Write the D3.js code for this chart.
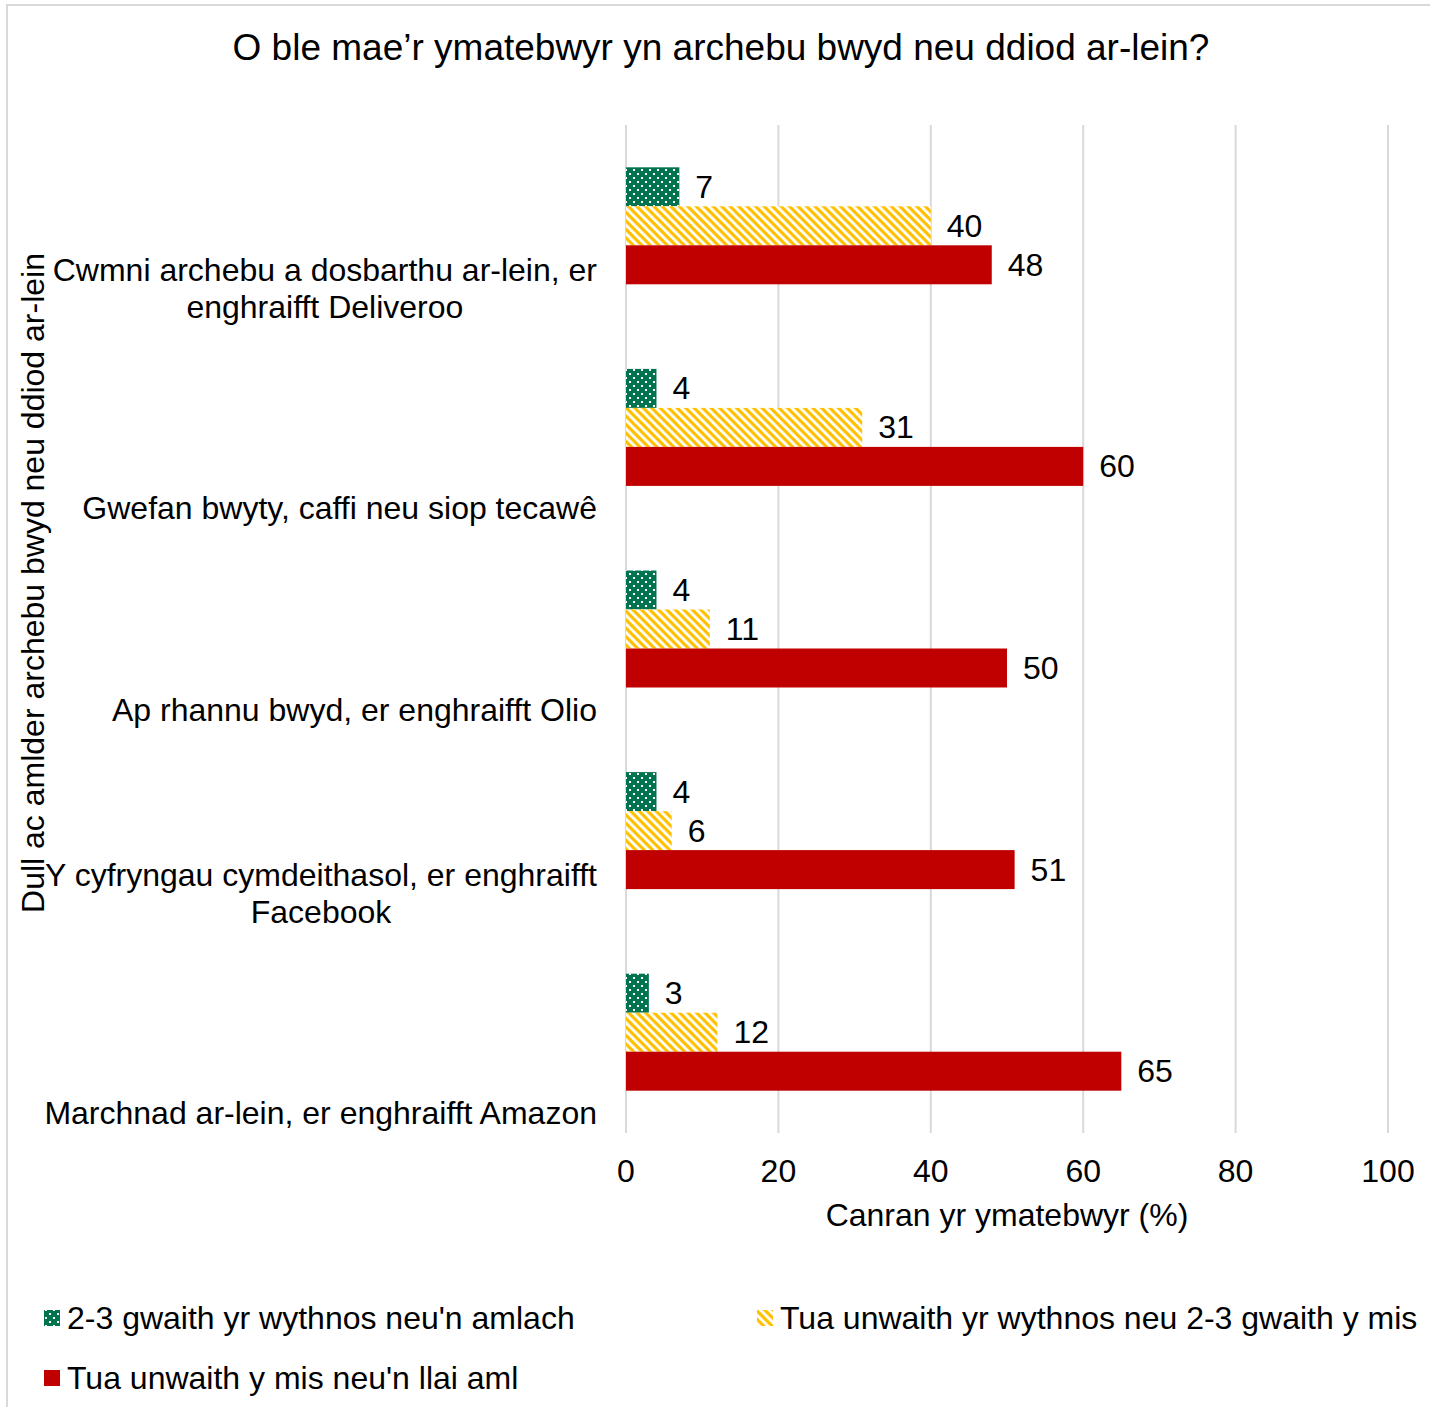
<!DOCTYPE html>
<html><head><meta charset="utf-8">
<script src="https://cdn.jsdelivr.net/npm/d3@7"></script>
<style>body{margin:0;background:#fff;}svg{font-family:"Liberation Sans",Arial,sans-serif;}</style>
</head><body>
<script>
const categories = [
  ["Cwmni archebu a dosbarthu ar-lein, er", "enghraifft Deliveroo"],
  ["Gwefan bwyty, caffi neu siop tecawê"],
  ["Ap rhannu bwyd, er enghraifft Olio"],
  ["Y cyfryngau cymdeithasol, er enghraifft", "Facebook"],
  ["Marchnad ar-lein, er enghraifft Amazon"]
];
const seriesNames = ["2-3 gwaith yr wythnos neu'n amlach", "Tua unwaith yr wythnos neu 2-3 gwaith y mis", "Tua unwaith y mis neu'n llai aml"];
const weekly = [7, 4, 4, 4, 3];
const monthly = [40, 31, 11, 6, 12];
const lessOften = [48, 60, 50, 51, 65];
const xTicks = [0, 20, 40, 60, 80, 100];
const title = "O ble mae’r ymatebwyr yn archebu bwyd neu ddiod ar-lein?";
const xTitle = "Canran yr ymatebwyr (%)";
const yTitle = "Dull ac amlder archebu bwyd neu ddiod ar-lein";

const series = [weekly, monthly, lessOften];
const W = 1430, H = 1407;
const FS = 32;
const svg = d3.select("body").append("svg").attr("width", W).attr("height", H);
const defs = svg.append("defs");
const pg = defs.append("pattern").attr("id", "pDots").attr("patternUnits", "userSpaceOnUse").attr("width", 8).attr("height", 8);
pg.append("rect").attr("width", 8).attr("height", 8).attr("fill", "#00734F");
pg.append("rect").attr("x", 1).attr("y", 1).attr("width", 2).attr("height", 2).attr("fill", "#fff");
pg.append("rect").attr("x", 5).attr("y", 5).attr("width", 2).attr("height", 2).attr("fill", "#fff");
const py = defs.append("pattern").attr("id", "pStripes").attr("patternUnits", "userSpaceOnUse").attr("width", 6).attr("height", 6).attr("patternTransform", "rotate(45)");
py.append("rect").attr("width", 6).attr("height", 6).attr("fill", "#fff");
py.append("rect").attr("width", 6).attr("height", 3.2).attr("fill", "#FFC000");
const fills = ["url(#pDots)", "url(#pStripes)", "#C00000"];

svg.append("rect").attr("x", 7).attr("y", 5).attr("width", W + 10).attr("height", H + 10).attr("fill", "none").attr("stroke", "#d9d9d9").attr("stroke-width", 2);

const x0 = 626, x1 = 1388, yTop = 125, yBot = 1133;
const x = d3.scaleLinear().domain([0, 100]).range([x0, x1]);
const y = d3.scaleBand().domain(d3.range(categories.length)).range([yTop, yBot]);
const barH = 39;
const inner = d3.scaleBand().domain([0, 1, 2]).range([0, barH * 3]);

svg.append("g").selectAll("line").data(xTicks).join("line")
  .attr("x1", d => x(d)).attr("x2", d => x(d)).attr("y1", yTop).attr("y2", yBot)
  .attr("stroke", "#d9d9d9").attr("stroke-width", 2);

svg.append("text").attr("x", 721).attr("y", 60).attr("text-anchor", "middle").attr("font-size", 37).attr("fill", "#000").text(title);

series.forEach((vals, si) => {
  const g = svg.append("g");
  g.selectAll("rect").data(vals).join("rect")
    .attr("x", x(0))
    .attr("y", (d, i) => y(i) + y.bandwidth() / 2 - barH * 1.5 + inner(si))
    .attr("width", d => x(d) - x(0))
    .attr("height", barH)
    .attr("fill", fills[si]);
  g.selectAll("text").data(vals).join("text")
    .attr("x", d => x(d) + 16)
    .attr("y", (d, i) => y(i) + y.bandwidth() / 2 - barH * 1.5 + inner(si) + barH / 2 + 11)
    .attr("font-size", FS).attr("fill", "#000").text(d => d);
});

categories.forEach((lines, i) => {
  const g = svg.append("g");
  const lastBase = y(i) + y.bandwidth() / 2 + 92;
  const ts = lines.map((l, li) => g.append("text")
    .attr("y", lastBase - (lines.length - 1 - li) * 37)
    .attr("font-size", FS).attr("fill", "#000").attr("text-anchor", "middle").text(l));
  const maxW = d3.max(ts, t => t.node().getComputedTextLength());
  const cx = 597 - maxW / 2;
  ts.forEach(t => t.attr("x", cx));
});

svg.append("g").selectAll("text").data(xTicks).join("text")
  .attr("x", d => x(d)).attr("y", 1182).attr("text-anchor", "middle").attr("font-size", FS).attr("fill", "#000").text(d => d);
svg.append("text").attr("x", (x0 + x1) / 2).attr("y", 1226).attr("text-anchor", "middle").attr("font-size", FS).attr("fill", "#000").text(xTitle);
svg.append("text").attr("transform", "translate(44,583) rotate(-90)").attr("text-anchor", "middle").attr("font-size", FS).attr("fill", "#000").text(yTitle);

const legPos = [[44, 1318], [757, 1318], [44, 1378]];
seriesNames.forEach((n, i) => {
  const [lx, ly] = legPos[i];
  svg.append("rect").attr("x", lx).attr("y", ly - 8).attr("width", 16).attr("height", 16).attr("fill", fills[i]);
  svg.append("text").attr("x", lx + 23).attr("y", ly + 11).attr("font-size", FS).attr("fill", "#000").text(n);
});
</script>
</body></html>
